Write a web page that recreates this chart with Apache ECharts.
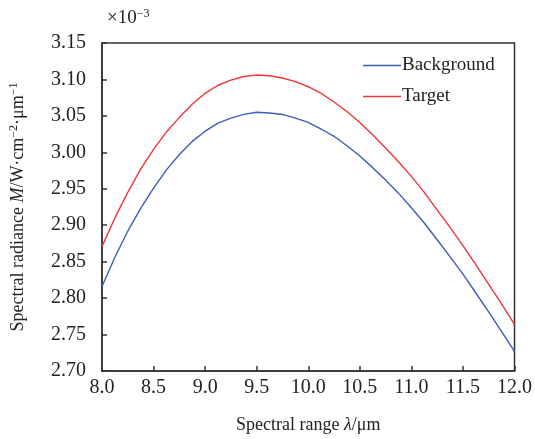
<!DOCTYPE html>
<html>
<head>
<meta charset="utf-8">
<script src="https://cdn.jsdelivr.net/npm/echarts@6/dist/echarts.min.js"></script>
<style>
  html, body { margin: 0; padding: 0; background: #fff; }
  #chart { width: 535px; height: 439px; }
</style>
</head>
<body>
<div id="chart"></div>
<script>
// 波长 (μm)
var wavelength = [
  8.0, 8.125, 8.25, 8.375, 8.5, 8.625, 8.75, 8.875,
  9.0, 9.125, 9.25, 9.375, 9.5, 9.625, 9.75, 9.875,
  10.0, 10.125, 10.25, 10.375, 10.5, 10.625, 10.75, 10.875,
  11.0, 11.125, 11.25, 11.375, 11.5, 11.625, 11.75, 11.875, 12.0
]
// 辐亮度 (×10^-3)
var background = [
  2.816, 2.856, 2.892, 2.923, 2.951, 2.976, 2.997, 3.015,
  3.029, 3.040, 3.047, 3.052, 3.055, 3.054, 3.052, 3.047,
  3.041, 3.032, 3.022, 3.009, 2.995, 2.979, 2.962, 2.944,
  2.924, 2.903, 2.880, 2.857, 2.833, 2.807, 2.781, 2.754, 2.727
]
var target = [
  2.871, 2.910, 2.945, 2.977, 3.004, 3.028, 3.048, 3.066,
  3.081, 3.092, 3.099, 3.104, 3.106, 3.105, 3.102, 3.097,
  3.090, 3.081, 3.069, 3.056, 3.041, 3.024, 3.006, 2.987,
  2.967, 2.945, 2.921, 2.897, 2.872, 2.846, 2.819, 2.792, 2.764
]
var seriesNames = ['Background', 'Target']

var font = 'Liberation Serif'
var ink = '#222'

var pairs = function(ys) {
  return wavelength.map(function(x, i) { return [x, ys[i]] })
}

var chart = echarts.init(document.getElementById('chart'))
chart.setOption({
  animation: false,
  grid: {
    left: 100, right: 20, top: 43, bottom: 67,
    show: true, borderColor: '#333', borderWidth: 1.5
  },
  legend: {
    left: 358, top: 51,
    icon: 'rect',
    itemWidth: 38, itemHeight: 1.5, itemGap: 12,
    textStyle: { fontFamily: font, fontSize: 19, color: ink, padding: [0, 0, 0, -4] },
    data: seriesNames
  },
  xAxis: {
    type: 'value', min: 8, max: 12, interval: 0.5,
    axisLine: { lineStyle: { color: '#333', width: 1.5 } },
    axisTick: { inside: true, length: 5, lineStyle: { color: '#333', width: 1.5 } },
    axisLabel: {
      margin: 7, fontFamily: font, fontSize: 20, color: ink,
      formatter: function(v) { return v.toFixed(1) }
    },
    splitLine: { show: false },
    name: '{n|Spectral range }{i|λ}{n|/μm}',
    nameLocation: 'middle', nameGap: 45,
    nameTextStyle: {
      rich: {
        n: { fontFamily: font, fontSize: 18, color: ink },
        i: { fontFamily: font, fontSize: 18, color: ink, fontStyle: 'italic' }
      }
    }
  },
  yAxis: {
    type: 'value', min: 2.7, max: 3.15, interval: 0.05,
    axisLine: { show: true, lineStyle: { color: '#333', width: 1.5 } },
    axisTick: { show: true, inside: true, length: 5, lineStyle: { color: '#333', width: 1.5 } },
    axisLabel: {
      margin: 16, fontFamily: font, fontSize: 20, color: ink,
      formatter: function(v) { return v.toFixed(2) }
    },
    splitLine: { show: false },
    name: '{n|Spectral radiance }{i|M}{n|/W·cm}{s|−2}{n|·μm}{s|−1}',
    nameLocation: 'middle', nameGap: 74, nameRotate: 90,
    nameTextStyle: {
      rich: {
        n: { fontFamily: font, fontSize: 18, color: ink },
        i: { fontFamily: font, fontSize: 18, color: ink, fontStyle: 'italic' },
        s: { fontFamily: font, fontSize: 12, color: ink, verticalAlign: 'top', padding: [0, 0, 8, 0] }
      }
    }
  },
  graphic: [{
    type: 'text', left: 107, top: 8,
    style: {
      text: '{n|×10}{s|−3}',
      rich: {
        n: { fontFamily: font, fontSize: 19, fill: ink },
        s: { fontFamily: font, fontSize: 12, fill: ink, padding: [0, 0, 8, 0] }
      }
    }
  }],
  series: [
    {
      name: seriesNames[0], type: 'line', smooth: false, showSymbol: false, symbol: 'none',
      lineStyle: { color: '#3a5fb0', width: 1.4, join: 'round' }, itemStyle: { color: '#3a5fb0' },
      data: pairs(background)
    },
    {
      name: seriesNames[1], type: 'line', smooth: false, showSymbol: false, symbol: 'none',
      lineStyle: { color: '#f03535', width: 1.4, join: 'round' }, itemStyle: { color: '#f03535' },
      data: pairs(target)
    }
  ]
})
</script>
</body>
</html>
